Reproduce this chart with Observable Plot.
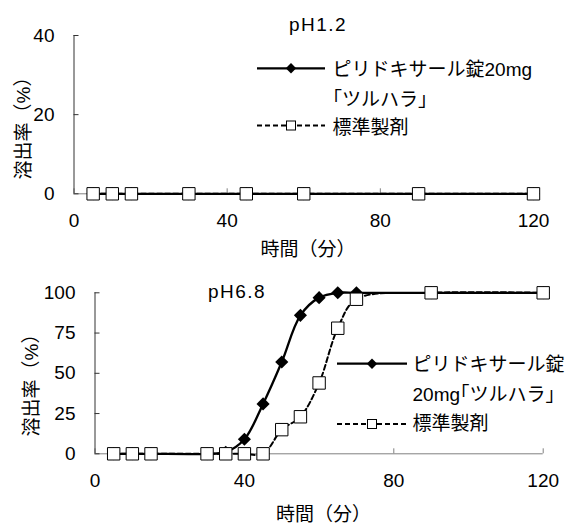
<!DOCTYPE html>
<html><head><meta charset="utf-8">
<script src="https://cdn.jsdelivr.net/npm/d3@7"></script>
<script src="https://cdn.jsdelivr.net/npm/@observablehq/plot@0.6"></script>
<style>
body{margin:0;background:#fff;}
#wrap{position:relative;width:570px;height:526px;background:#fff;}
#wrap > svg{position:absolute;left:0;}
.br{font-feature-settings:"halt";}
</style></head><body>
<div id="wrap"></div>
<script>
// ---- data ----
const timesAcid = [5, 10, 15, 30, 45, 60, 90, 120];
const testAcid = [0, 0, 0, 0, 0, 0, 0, 0];
const refAcid = [0, 0, 0, 0, 0, 0, 0, 0];
const timesNeutral = [5, 10, 15, 30, 35, 40, 45, 50, 55, 60, 65, 70, 90, 120];
const testNeutral = [0, 0, 0, 0, 1, 9, 31, 57, 86, 97, 100, 100, 100, 100];
const refNeutral = [0, 0, 0, 0, 0, 0, 0, 15, 23, 44, 78, 96, 100, 100];
const xTicks = [0, 40, 80, 120];
const yTicksAcid = [0, 20, 40];
const yTicksNeutral = [0, 25, 50, 75, 100];
const titles = ["pH1.2", "pH6.8"];
const xLabel = "時間（分）";
const yLabel = "溶出率（%）";
const legendAcid = ["ピリドキサール錠20mg", "「ツルハラ」", "標準製剤"];
const legendNeutral = ["ピリドキサール錠", "20mg「ツルハラ」", "標準製剤"];

const FONT = "'Liberation Sans','Noto Sans CJK JP',sans-serif";
const wrap = document.getElementById("wrap");

function panel(o) {
  const testData = o.times.map((t, i) => ({t, v: o.test[i]}));
  const refData = o.times.map((t, i) => ({t, v: o.ref[i]}));
  const svg = Plot.plot({
    width: 570, height: 263,
    marginLeft: o.ml, marginRight: o.mr, marginTop: o.mt, marginBottom: o.mb,
    style: {fontSize: "19px", fontFamily: FONT, background: "transparent", overflow: "visible", color: "#000"},
    x: {domain: [0, 120]},
    y: {domain: o.yDomain},
    marks: [
      Plot.ruleY([0], {stroke: "#808080", strokeWidth: 1}),
      Plot.axisX({ticks: xTicks, tickSize: -5, tickPadding: 25, stroke: "#808080", fill: "#000", label: null, tickFormat: d => String(d)}),
      Plot.ruleX([0], {stroke: "#333", strokeWidth: 1}),
      Plot.axisY({ticks: o.yTicks, tickSize: -5, tickPadding: 24.5, stroke: "#333", fill: "#000", label: null, tickFormat: d => String(d)}),
      Plot.line(testData, {x: "t", y: "v", curve: "catmull-rom", stroke: "#000", strokeWidth: 2.3}),
      Plot.dot(testData, {x: "t", y: "v", symbol: "diamond2", r: 5.9, fill: "#000", stroke: "none"}),
      Plot.line(refData, {x: "t", y: "v", curve: "catmull-rom", stroke: "#000", strokeWidth: 2, strokeDasharray: "5,3"}),
      Plot.dot(refData, {x: "t", y: "v", symbol: "square", r: 7, fill: "#fff", stroke: "#000", strokeWidth: 1}),
      Plot.text([yLabel], {frameAnchor: "left", rotate: -90, textAnchor: "middle", lineAnchor: "middle", dx: o.yldx, dy: o.yldy, text: d => d, fill: "#000"}),
      Plot.text([xLabel], {frameAnchor: "bottom", textAnchor: "middle", lineAnchor: "middle", dx: o.xldx, dy: o.xldy, text: d => d, fill: "#000"})
    ]
  });
  svg.style.top = o.top + "px";
  wrap.appendChild(svg);
}

panel({times: timesAcid, test: testAcid, ref: refAcid, yDomain: [0, 40], yTicks: yTicksAcid,
  ml: 73.5, mr: 37, mt: 35, mb: 69.7, top: 0,
  yldx: -50.3, yldy: 8.8, xldx: 4.25, xldy: 55.9});
panel({times: timesNeutral, test: testNeutral, ref: refNeutral, yDomain: [0, 100], yTicks: yTicksNeutral,
  ml: 94.5, mr: 27.3, mt: 29.3, mb: 72.7, top: 263,
  yldx: -63.3, yldy: 7.2, xldx: 4.4, xldy: 61.5});

// ---- titles & legends overlay ----
const ov = d3.select(wrap).append("svg")
  .attr("width", 570).attr("height", 526)
  .style("top", "0px")
  .style("font-family", FONT).style("font-size", "19px");

ov.append("text").attr("x", 318).attr("y", 30.7).attr("text-anchor", "middle")
  .style("letter-spacing", "1.5px").text(titles[0]);
ov.append("text").attr("x", 237).attr("y", 297.5).attr("text-anchor", "middle")
  .style("letter-spacing", "1.5px").text(titles[1]);

function addText(sel, str) {
  const parts = str.split(/([「」])/).filter(p => p.length);
  parts.forEach(p => {
    const ts = sel.append("tspan").text(p);
    if (p === "「" || p === "」") ts.attr("class", "br");
  });
}

function legend(g) {
  const s = ov.append("g");
  s.append("line").attr("x1", g.x0).attr("x2", g.x1).attr("y1", g.y1).attr("y2", g.y1)
    .attr("stroke", "#000").attr("stroke-width", 2.3);
  const cx = (g.x0 + g.x1) / 2, d = 5.2;
  s.append("path").attr("d", `M${cx},${g.y1 - d}L${cx + d},${g.y1}L${cx},${g.y1 + d}L${cx - d},${g.y1}Z`).attr("fill", "#000");
  s.append("line").attr("x1", g.x0).attr("x2", g.x1).attr("y1", g.y2).attr("y2", g.y2)
    .attr("stroke", "#000").attr("stroke-width", 2).attr("stroke-dasharray", "5,3");
  s.append("rect").attr("x", cx - 4.5).attr("y", g.y2 - 4.5).attr("width", 9).attr("height", 9)
    .attr("fill", "#fff").attr("stroke", "#000").attr("stroke-width", 1);
  g.lines.forEach((t, i) => {
    const tx = s.append("text").attr("x", g.tx).attr("y", g.ty[i]).attr("dominant-baseline", "central");
    addText(tx, t);
  });
}
legend({x0: 257, x1: 325, y1: 68.3, y2: 125.5, tx: 332.5, ty: [69, 98.5, 127], lines: legendAcid});
legend({x0: 337, x1: 407, y1: 363.7, y2: 424, tx: 412.5, ty: [364, 393.5, 422.5], lines: legendNeutral});
</script>
</body></html>
